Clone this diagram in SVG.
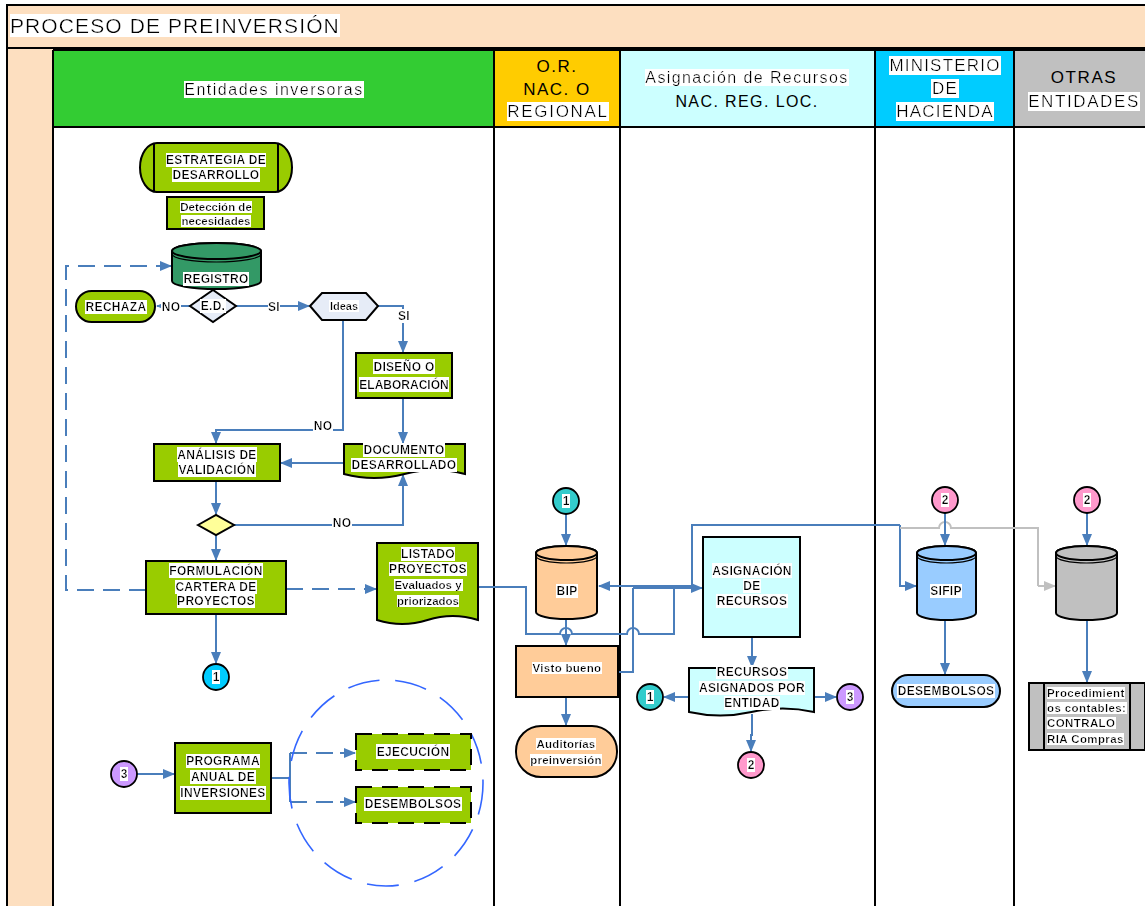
<svg xmlns="http://www.w3.org/2000/svg" width="1145" height="906" viewBox="0 0 1145 906">
<style>
.t{font-family:"Liberation Sans",Arial,sans-serif;font-weight:bold;font-size:12px;letter-spacing:0.3px;fill:#000;text-anchor:middle;filter:url(#hl)}
.tl{font-family:"Liberation Sans",Arial,sans-serif;font-weight:bold;font-size:11.5px;letter-spacing:0.4px;fill:#000;filter:url(#hl)}
.h{font-family:"Liberation Sans",Arial,sans-serif;font-size:17px;fill:#000;text-anchor:middle}
.hb{filter:url(#hl)}
.n{stroke:#000;stroke-width:2}
.c{fill:none;stroke:#4A7EBB;stroke-width:2}
.ca{fill:none;stroke:#4A7EBB;stroke-width:2;marker-end:url(#ar)}
.cd{fill:none;stroke:#4A7EBB;stroke-width:2;stroke-dasharray:17 9}
.cg{fill:none;stroke:#C0C0C0;stroke-width:2}
.lane{stroke:#000;stroke-width:2;fill:none}
.g{fill:#99CC00}
.circ{stroke:#000;stroke-width:1.8}
</style>
<defs>
<filter id="hl" x="0" y="0" width="1" height="1"><feFlood flood-color="#ffffff"/><feComposite in="SourceGraphic" operator="over"/></filter>
<marker id="ar" markerUnits="userSpaceOnUse" markerWidth="12" markerHeight="10" refX="11" refY="5" orient="auto"><path d="M0,0 L12,5 L0,10 z" fill="#4A7EBB"/></marker>
<marker id="arg" markerUnits="userSpaceOnUse" markerWidth="12" markerHeight="10" refX="11" refY="5" orient="auto"><path d="M0,0 L12,5 L0,10 z" fill="#C0C0C0"/></marker>
</defs>

<g id="frame">
<rect x="0" y="0" width="1145" height="906" fill="#fff"/>
<rect x="7" y="5" width="1140" height="43" fill="#FDDFC0"/>
<rect x="7" y="48" width="46" height="860" fill="#FDDFC0"/>
<rect x="53" y="50" width="441" height="77" fill="#33CC33"/>
<rect x="494" y="50" width="126" height="77" fill="#FFCC00"/>
<rect x="620" y="50" width="255" height="77" fill="#CCFFFF"/>
<rect x="875" y="50" width="139" height="77" fill="#00CCFF"/>
<rect x="1014" y="50" width="133" height="77" fill="#C0C0C0"/>
<path class="lane" d="M7,906 V5 H1147 M7,48 H1147 M53,50 H1147 M53,127 H1147 M53,50 V906 M494,50 V906 M620,50 V906 M875,50 V906 M1014,50 V906"/>
<text x="10" y="33" style="font-family:'Liberation Sans',Arial,sans-serif;font-size:21px;letter-spacing:1.1px;filter:url(#hl)">PROCESO DE PREINVERSIÓN</text>
<text class="h hb" x="274" y="95" style="font-size:16px;letter-spacing:1.5px">Entidades inversoras</text>
<text class="h" x="557" y="72" style="letter-spacing:1.5px">O.R.</text>
<text class="h" x="557" y="95" style="letter-spacing:1.5px">NAC. O</text>
<text class="h hb" x="558" y="117" style="letter-spacing:1.7px">REGIONAL</text>
<text class="h hb" x="747" y="83" style="font-size:16px;letter-spacing:1.4px">Asignación de Recursos</text>
<text class="h" x="747" y="107" style="font-size:16px;letter-spacing:1.4px">NAC. REG. LOC.</text>
<text class="h hb" x="945" y="71" style="letter-spacing:1.2px">MINISTERIO</text>
<text class="h hb" x="945" y="94" style="letter-spacing:1.2px">DE</text>
<text class="h hb" x="945" y="117" style="letter-spacing:1.2px">HACIENDA</text>
<text class="h" x="1084" y="83" style="letter-spacing:1.6px">OTRAS</text>
<text class="h hb" x="1084" y="107" style="letter-spacing:1.6px">ENTIDADES</text>
</g>

<g id="connectors">
<path class="ca" d="M190,306 H157"/>
<path class="ca" d="M236,306 H309"/>
<path class="ca" d="M378,306 H403 V352"/>
<path class="ca" d="M343,320 V430 H216 V443"/>
<path class="ca" d="M403,398 V443"/>
<path class="ca" d="M344,463 H281"/>
<path class="ca" d="M216,481 V514"/>
<path class="ca" d="M234,525 H403 V475"/>
<path class="ca" d="M216,535 V560"/>
<path class="ca" d="M216,614 V663"/>
<path class="cd" d="M286,589 H364"/>
<path class="ca" d="M364,589 H376"/>
<path class="cd" d="M146,590 H66 V266 H160"/>
<path class="ca" d="M158,266 H171"/>
<path class="ca" d="M137,774 H174"/>
<path class="c" d="M271,778 H290 M290,753 V802"/>
<path class="cd" d="M290,753 H345"/>
<path class="ca" d="M340,753 H355"/>
<path class="cd" d="M290,802 H345"/>
<path class="ca" d="M340,802 H355"/>
<ellipse cx="386" cy="783" rx="97" ry="103" fill="none" stroke="#3366FF" stroke-width="1.6" stroke-dasharray="32 16"/>
<path class="ca" d="M566,514 V545"/>
<path class="ca" d="M566,619 V645"/>
<path class="ca" d="M566,697 V725"/>
<path class="c" d="M478,587 H526 V634 H560 A6,6 0 0 1 572,634 H627 A6,6 0 0 1 639,634 H674 V588"/>
<path class="c" d="M618,672 H633 V588"/>
<path class="ca" d="M633,588 H702"/>
<path class="ca" d="M692,586 H599"/>
<path class="c" d="M692,586 V525 H900"/>
<path class="ca" d="M900,525 V586 H916"/>
<path class="cg" d="M900,528 H939 A6,6 0 0 1 951,528 H1038 V586"/>
<path fill="none" stroke="#C0C0C0" stroke-width="2" marker-end="url(#arg)" d="M1038,586 H1055"/>
<path class="ca" d="M752,637 V667"/>
<path class="ca" d="M689,697 H664"/>
<path class="ca" d="M814,697 H836"/>
<path class="ca" d="M752,714 V735 H751 V751"/>
<path class="ca" d="M945,513 V545"/>
<path class="ca" d="M945,620 V674"/>
<path class="ca" d="M1087,513 V545"/>
<path class="ca" d="M1087,620 V682"/>
<text class="t" x="171" y="311">NO</text>
<text class="t" x="274" y="311">SI</text>
<text class="t" x="404" y="320">SI</text>
<text class="t" x="323" y="430">NO</text>
<text class="t" x="342" y="527">NO</text>
</g>

<g id="estrategia">
<rect class="n g" x="140" y="143" width="152" height="49" rx="17" ry="24.5"/>
<path class="n" d="M154,143 V192 M278,143 V192"/>
<text class="t" x="216" y="164">ESTRATEGIA DE</text>
<text class="t" x="216" y="179">DESARROLLO</text>
</g>
<g id="deteccion">
<rect class="n g" x="167" y="197" width="97" height="32"/>
<text class="t" x="216" y="211" style="font-size:11.5px;letter-spacing:0">Detección de</text>
<text class="t" x="216" y="225" style="font-size:11.5px;letter-spacing:0">necesidades</text>
</g>
<g id="registro">
<path class="n" fill="#339966" d="M172,251 V281 A44.5,8 0 0 0 261,281 V251 A44.5,8 0 0 0 172,251 Z"/>
<ellipse class="n" fill="#339966" cx="216.5" cy="251" rx="44.5" ry="8"/>
<path fill="none" stroke="#000" stroke-width="1.2" d="M172,254 A44.5,8 0 0 0 261,254"/>
<text class="t" x="216" y="283">REGISTRO</text>
</g>
<g id="rechaza">
<rect class="n g" x="76" y="291" width="79" height="31" rx="15.5"/>
<text class="t" x="116" y="311">RECHAZA</text>
</g>
<g id="ed">
<polygon class="n" fill="#E6ECF7" points="190,306 213,290 236,306 213,322"/>
<text class="t" x="213" y="310">E.D.</text>
</g>
<g id="ideas">
<polygon class="n" fill="#E6ECF7" points="310,306 322,293 366,293 378,306 366,320 322,320"/>
<text class="t" x="344" y="310" style="font-size:11px;letter-spacing:0">Ideas</text>
</g>
<g id="diseno">
<rect class="n g" x="356" y="353" width="96" height="45"/>
<text class="t" x="404" y="371">DISEÑO O</text>
<text class="t" x="404" y="389" style="letter-spacing:0">ELABORACIÓN</text>
</g>
<g id="documento">
<path class="n g" d="M344,444 H465 V474 Q434.75,466 404.5,474 T344,474 Z"/>
<text class="t" x="404" y="454">DOCUMENTO</text>
<text class="t" x="404" y="469">DESARROLLADO</text>
</g>
<g id="analisis">
<rect class="n g" x="154" y="444" width="126" height="37"/>
<text class="t" x="217" y="459">ANÁLISIS DE</text>
<text class="t" x="217" y="474">VALIDACIÓN</text>
</g>
<g id="decision">
<polygon class="n" fill="#FFFF99" points="198,525 216,515 234,525 216,535"/>
</g>
<g id="formulacion">
<rect class="n g" x="146" y="561" width="140" height="53"/>
<text class="t" x="216" y="575">FORMULACIÓN</text>
<text class="t" x="216" y="591">CARTERA DE</text>
<text class="t" x="216" y="605">PROYECTOS</text>
</g>
<g id="listado">
<path class="n g" d="M377,543 H478 V620 Q452.75,612 427.5,620 T377,620 Z"/>
<text class="t" x="428" y="558">LISTADO</text>
<text class="t" x="428" y="573">PROYECTOS</text>
<text class="t" x="428" y="589" style="font-size:11.5px;letter-spacing:0">Evaluados y</text>
<text class="t" x="428" y="605" style="font-size:11.5px;letter-spacing:0">priorizados</text>
</g>
<g id="c1a">
<circle class="circ" cx="216" cy="677" r="13" fill="#00CCFF"/>
<text class="t" x="216" y="681" style="font-size:12px;letter-spacing:0">1</text>
</g>
<g id="c3a">
<circle class="circ" cx="124" cy="774" r="13" fill="#CC99FF"/>
<text class="t" x="124" y="778" style="font-size:12px;letter-spacing:0">3</text>
</g>
<g id="programa">
<rect class="n g" x="175" y="743" width="96" height="70"/>
<text class="t" x="223" y="765">PROGRAMA</text>
<text class="t" x="223" y="781">ANUAL DE</text>
<text class="t" x="223" y="797">INVERSIONES</text>
</g>
<g id="ejecucion">
<rect class="g" x="356" y="734" width="115" height="36"/>
<rect x="356" y="734" width="115" height="36" fill="none" stroke="#000" stroke-width="2" stroke-dasharray="16 10"/>
<text class="t" x="413" y="756">EJECUCIÓN</text>
</g>
<g id="desembolsos1">
<rect class="g" x="356" y="787" width="115" height="36"/>
<rect x="356" y="787" width="115" height="36" fill="none" stroke="#000" stroke-width="2" stroke-dasharray="16 10"/>
<text class="t" x="413" y="808">DESEMBOLSOS</text>
</g>

<g id="c1b">
<circle class="circ" cx="566" cy="501" r="13" fill="#33CCCC"/>
<text class="t" x="566" y="505" style="font-size:12px;letter-spacing:0">1</text>
</g>
<g id="bip">
<path class="n" fill="#FFCC99" d="M536,553 V612 A30.5,7 0 0 0 597,612 V553 A30.5,7 0 0 0 536,553 Z"/>
<ellipse class="n" fill="#FFCC99" cx="566.5" cy="553" rx="30.5" ry="7"/>
<path fill="none" stroke="#000" stroke-width="1.2" d="M536,556 A30.5,7 0 0 0 597,556"/>
<text class="t" x="567" y="595">BIP</text>
</g>
<g id="visto">
<rect class="n" fill="#FFCC99" x="516" y="646" width="102" height="51"/>
<text class="t" x="567" y="672" style="font-size:11.5px;letter-spacing:0.3px">Visto bueno</text>
</g>
<g id="auditorias">
<rect class="n" fill="#FFCC99" x="516" y="726" width="101" height="51" rx="25"/>
<text class="t" x="566" y="748" style="font-size:11.5px;letter-spacing:0.2px">Auditorías</text>
<text class="t" x="566" y="764" style="font-size:11.5px;letter-spacing:0.2px">preinversión</text>
</g>

<g id="asignacion">
<rect class="n" fill="#CCFFFF" x="703" y="537" width="97" height="100"/>
<text class="t" x="752" y="575">ASIGNACIÓN</text>
<text class="t" x="752" y="590">DE</text>
<text class="t" x="752" y="605">RECURSOS</text>
</g>
<g id="recursos">
<path class="n" fill="#CCFFFF" d="M689,668 H814 V712 Q782.75,705 751.5,712 T689,712 Z"/>
<text class="t" x="752" y="676">RECURSOS</text>
<text class="t" x="752" y="692">ASIGNADOS POR</text>
<text class="t" x="752" y="707">ENTIDAD</text>
</g>
<g id="c1c">
<circle class="circ" cx="650" cy="697" r="13" fill="#33CCCC"/>
<text class="t" x="650" y="701" style="font-size:12px;letter-spacing:0">1</text>
</g>
<g id="c3b">
<circle class="circ" cx="850" cy="697" r="13" fill="#CC99FF"/>
<text class="t" x="850" y="701" style="font-size:12px;letter-spacing:0">3</text>
</g>
<g id="c2a">
<circle class="circ" cx="751" cy="765" r="13" fill="#FF99CC"/>
<text class="t" x="751" y="769" style="font-size:12px;letter-spacing:0">2</text>
</g>

<g id="c2b">
<circle class="circ" cx="945" cy="500" r="13" fill="#FF99CC"/>
<text class="t" x="945" y="504" style="font-size:12px;letter-spacing:0">2</text>
</g>
<g id="sifip">
<path class="n" fill="#99CCFF" d="M917,553 V613 A29.5,7 0 0 0 976,613 V553 A29.5,7 0 0 0 917,553 Z"/>
<ellipse class="n" fill="#99CCFF" cx="946.5" cy="553" rx="29.5" ry="7"/>
<path fill="none" stroke="#000" stroke-width="1.2" d="M917,556 A29.5,7 0 0 0 976,556"/>
<text class="t" x="946" y="595">SIFIP</text>
</g>
<g id="desembolsos2">
<rect class="n" fill="#99CCFF" x="892" y="675" width="108" height="32" rx="16"/>
<text class="t" x="946" y="695">DESEMBOLSOS</text>
</g>

<g id="c2c">
<circle class="circ" cx="1087" cy="500" r="13" fill="#FF99CC"/>
<text class="t" x="1087" y="504" style="font-size:12px;letter-spacing:0">2</text>
</g>
<g id="otrasdb">
<path class="n" fill="#C0C0C0" d="M1056,553 V613 A30.5,7 0 0 0 1117,613 V553 A30.5,7 0 0 0 1056,553 Z"/>
<ellipse class="n" fill="#C0C0C0" cx="1086.5" cy="553" rx="30.5" ry="7"/>
<path fill="none" stroke="#000" stroke-width="1.2" d="M1056,556 A30.5,7 0 0 0 1117,556"/>
</g>
<g id="procedimientos">
<rect class="n" fill="#C0C0C0" x="1029" y="683" width="116" height="67"/>
<path class="n" d="M1044,683 V750 M1130,683 V750"/>
<text class="tl" x="1047" y="697">Procedimient</text>
<text class="tl" x="1047" y="712">os contables:</text>
<text class="tl" x="1047" y="727">CONTRALO</text>
<text class="tl" x="1047" y="743">RIA Compras</text>
</g>
</svg>
